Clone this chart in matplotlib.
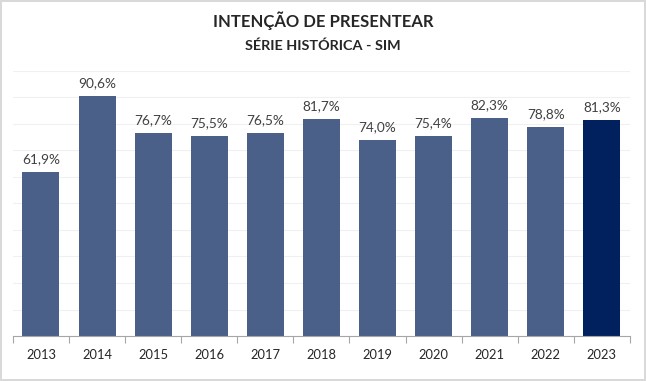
import matplotlib
matplotlib.use("Agg")
import matplotlib.pyplot as plt
import numpy as np

years = ["2013", "2014", "2015", "2016", "2017", "2018", "2019", "2020", "2021", "2022", "2023"]
values = [61.9, 90.6, 76.7, 75.5, 76.5, 81.7, 74.0, 75.4, 82.3, 78.8, 81.3]
labels = ["61,9%", "90,6%", "76,7%", "75,5%", "76,5%", "81,7%", "74,0%", "75,4%", "82,3%", "78,8%", "81,3%"]

plt.rcParams['font.family'] = ['Lato', 'DejaVu Sans']

fig = plt.figure(figsize=(6.46, 3.81), dpi=100)
fig.patch.set_facecolor("white")
fig.patch.set_edgecolor("#d9d9d9")
fig.patch.set_linewidth(1.5)

ax = fig.add_axes([0.020, 0.118, 0.955, 0.696])
x = np.arange(len(years))
colors = ["#4a6089"] * (len(years) - 1) + ["#00205e"]
ax.bar(x, values, width=0.66, color=colors, zorder=2)

for xi, v, lab in zip(x, values, labels):
    ax.annotate(lab, (xi, v), xytext=(0, 5), textcoords="offset points",
                ha="center", va="bottom", fontsize=9.8, color="#404040")

ax.set_ylim(0, 100)
ax.set_xlim(-0.5, len(years) - 0.5)
ax.set_yticks(np.arange(0, 101, 10))
ax.yaxis.grid(True, color="#f0f0f0", linewidth=0.8, zorder=0)
ax.tick_params(axis="y", left=False, labelleft=False)
ax.set_xticks(x)
ax.set_xticklabels(years, fontsize=9.3, color="#262626")
ax.set_xticks(np.arange(-0.5, len(years), 1), minor=True)
ax.tick_params(axis="x", which="major", length=0, pad=9)
ax.tick_params(axis="x", which="minor", length=5, color="#a6a6a6", width=0.8)
for s in ["top", "right", "left"]:
    ax.spines[s].set_visible(False)
ax.spines["bottom"].set_color("#a6a6a6")
ax.spines["bottom"].set_linewidth(0.8)

fig.text(0.5, 0.945, "INTENÇÃO DE PRESENTEAR", ha="center", va="center",
         fontsize=12, fontweight="bold", color="#262626")
fig.text(0.5, 0.88, "SÉRIE HISTÓRICA - SIM", ha="center", va="center",
         fontsize=10.4, fontweight="bold", color="#262626")

fig.savefig("out.png", dpi=100, facecolor=fig.get_facecolor(), edgecolor=fig.get_edgecolor())
